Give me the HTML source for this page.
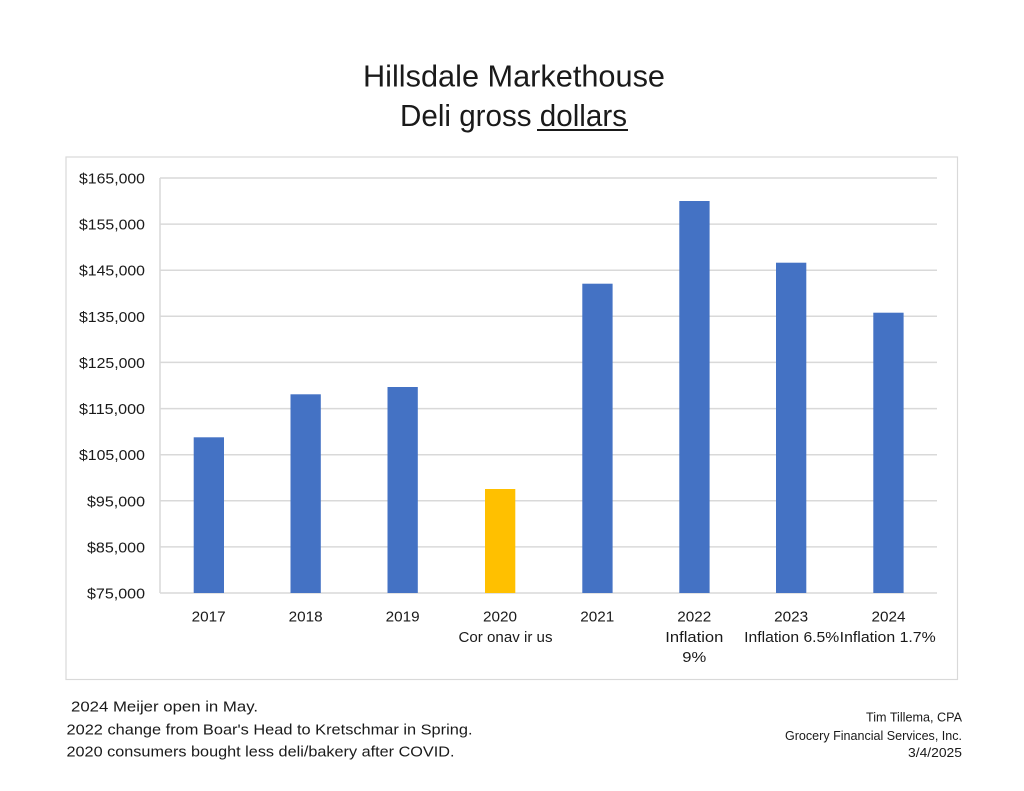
<!DOCTYPE html>
<html>
<head>
<meta charset="utf-8">
<style>
  html,body{margin:0;padding:0;background:#fff;}
  svg{display:block;}
  text{font-family:"Liberation Sans",Arial,sans-serif;fill:#1a1a1a;}
</style>
</head>
<body>
<svg width="1024" height="791" viewBox="0 0 1024 791" xmlns="http://www.w3.org/2000/svg">
  <rect x="0" y="0" width="1024" height="791" fill="#fff"/>

  <!-- Title -->
  <text x="514" y="86.5" font-size="30.5" text-anchor="middle" textLength="302" lengthAdjust="spacingAndGlyphs">Hillsdale Markethouse</text>
  <text x="400" y="126" font-size="30.5" textLength="227" lengthAdjust="spacingAndGlyphs">Deli gross dollars</text>
  <rect x="537" y="129" width="91" height="2" fill="#1a1a1a"/>

  <!-- Chart border -->
  <rect x="66" y="157" width="891.5" height="522.5" fill="none" stroke="#d9d9d9" stroke-width="1.2"/>

  <!-- Gridlines -->
  <g stroke="#d9d9d9" stroke-width="1.5">
    <line x1="160" y1="178" x2="937" y2="178"/>
    <line x1="160" y1="224.1" x2="937" y2="224.1"/>
    <line x1="160" y1="270.2" x2="937" y2="270.2"/>
    <line x1="160" y1="316.3" x2="937" y2="316.3"/>
    <line x1="160" y1="362.4" x2="937" y2="362.4"/>
    <line x1="160" y1="408.6" x2="937" y2="408.6"/>
    <line x1="160" y1="454.7" x2="937" y2="454.7"/>
    <line x1="160" y1="500.8" x2="937" y2="500.8"/>
    <line x1="160" y1="546.9" x2="937" y2="546.9"/>
    <line x1="160" y1="593" x2="937" y2="593"/>
    <line x1="160" y1="178" x2="160" y2="593"/>
  </g>

  <!-- Y labels -->
  <g font-size="15" text-anchor="end">
    <text x="145" y="183.5" textLength="66" lengthAdjust="spacingAndGlyphs">$165,000</text>
    <text x="145" y="229.6" textLength="66" lengthAdjust="spacingAndGlyphs">$155,000</text>
    <text x="145" y="275.7" textLength="66" lengthAdjust="spacingAndGlyphs">$145,000</text>
    <text x="145" y="321.8" textLength="66" lengthAdjust="spacingAndGlyphs">$135,000</text>
    <text x="145" y="367.9" textLength="66" lengthAdjust="spacingAndGlyphs">$125,000</text>
    <text x="145" y="414.1" textLength="66" lengthAdjust="spacingAndGlyphs">$115,000</text>
    <text x="145" y="460.2" textLength="66" lengthAdjust="spacingAndGlyphs">$105,000</text>
    <text x="145" y="506.3" textLength="58" lengthAdjust="spacingAndGlyphs">$95,000</text>
    <text x="145" y="552.4" textLength="58" lengthAdjust="spacingAndGlyphs">$85,000</text>
    <text x="145" y="598.5" textLength="58" lengthAdjust="spacingAndGlyphs">$75,000</text>
  </g>

  <!-- Bars -->
  <g fill="#4472C4">
    <rect x="193.7" y="437.3" width="30.3" height="155.7"/>
    <rect x="290.5" y="394.3" width="30.3" height="198.7"/>
    <rect x="387.5" y="387" width="30.3" height="206"/>
    <rect x="582.3" y="283.7" width="30.3" height="309.3"/>
    <rect x="679.3" y="201" width="30.3" height="392"/>
    <rect x="776" y="262.7" width="30.3" height="330.3"/>
    <rect x="873.3" y="312.7" width="30.3" height="280.3"/>
  </g>
  <rect x="485" y="489" width="30.3" height="104" fill="#FFC000"/>

  <!-- X labels -->
  <g font-size="15" text-anchor="middle">
    <text x="208.7" y="621.5" textLength="34" lengthAdjust="spacingAndGlyphs">2017</text>
    <text x="305.7" y="621.5" textLength="34" lengthAdjust="spacingAndGlyphs">2018</text>
    <text x="402.7" y="621.5" textLength="34" lengthAdjust="spacingAndGlyphs">2019</text>
    <text x="500" y="621.5" textLength="34" lengthAdjust="spacingAndGlyphs">2020</text>
    <text x="505.5" y="642" textLength="94" lengthAdjust="spacingAndGlyphs">Cor onav ir us</text>
    <text x="597.3" y="621.5" textLength="34" lengthAdjust="spacingAndGlyphs">2021</text>
    <text x="694.3" y="621.5" textLength="34" lengthAdjust="spacingAndGlyphs">2022</text>
    <text x="694.3" y="642" textLength="58" lengthAdjust="spacingAndGlyphs">Inflation</text>
    <text x="694.3" y="662" textLength="24" lengthAdjust="spacingAndGlyphs">9%</text>
    <text x="791.2" y="621.5" textLength="34" lengthAdjust="spacingAndGlyphs">2023</text>
    <text x="791.7" y="642" textLength="95" lengthAdjust="spacingAndGlyphs">Inflation 6.5%</text>
    <text x="888.5" y="621.5" textLength="34" lengthAdjust="spacingAndGlyphs">2024</text>
    <text x="887.7" y="642" textLength="96" lengthAdjust="spacingAndGlyphs">Inflation 1.7%</text>
  </g>

  <!-- Footer left -->
  <g font-size="14.5">
    <text x="71" y="711.7" textLength="187" lengthAdjust="spacingAndGlyphs">2024 Meijer open in May.</text>
    <text x="66.5" y="734.3" textLength="406" lengthAdjust="spacingAndGlyphs">2022 change from Boar's Head to Kretschmar in Spring.</text>
    <text x="66.5" y="756.3" textLength="388" lengthAdjust="spacingAndGlyphs">2020 consumers bought less deli/bakery after COVID.</text>
  </g>

  <!-- Footer right -->
  <g font-size="12.5" text-anchor="end">
    <text x="962" y="721.7" textLength="96" lengthAdjust="spacingAndGlyphs">Tim Tillema, CPA</text>
    <text x="962" y="740" textLength="177" lengthAdjust="spacingAndGlyphs">Grocery Financial Services, Inc.</text>
    <text x="962" y="757" textLength="54" lengthAdjust="spacingAndGlyphs">3/4/2025</text>
  </g>
</svg>
</body>
</html>
